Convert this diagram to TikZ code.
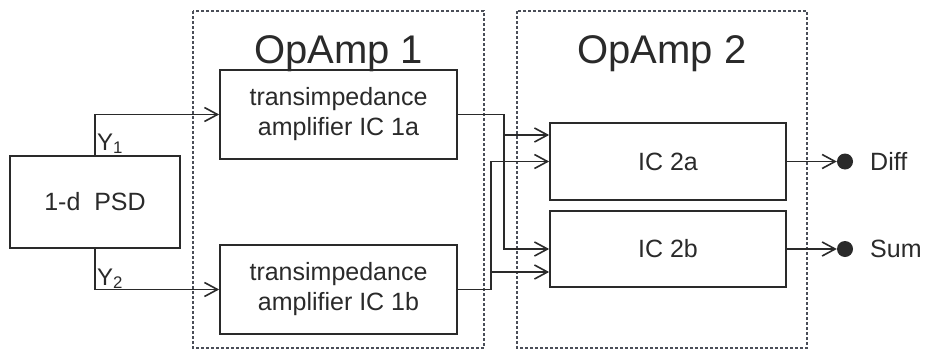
\documentclass[tikz,border=0pt]{standalone}
\usepackage{fontspec}
\setmainfont{Liberation Sans}
\usepackage{tikz}
\usetikzlibrary{arrows.meta,positioning}

\definecolor{inkgray}{HTML}{2A2A2A}
\definecolor{dashgray}{HTML}{4A4E58}

\begin{document}
\begin{tikzpicture}[x=1pt, y=-1pt, >={Straight Barb[length=13pt,width=14pt]},
  every node/.style={text=inkgray},
  block/.style={draw=inkgray, line width=1.7pt, align=center, inner sep=0pt,
    font=\fontsize{25}{30}\selectfont},
  stage/.style={draw=dashgray, line width=1.3pt, dash pattern=on 3pt off 2pt},
  wire/.style={draw=inkgray, line width=1.6pt},
  title/.style={font=\fontsize{40}{48}\selectfont, anchor=base},
  terminal/.style={circle, fill=inkgray, inner sep=0pt, minimum size=16pt},
  outlabel/.style={font=\fontsize{25}{30}\selectfont, anchor=west, inner sep=0pt},
  ylabel/.style={font=\fontsize{24}{28}\selectfont, anchor=south west, inner sep=1pt}]

  \useasboundingbox (0,0) rectangle (928,351);

  % Stages (dashed frames)
  \draw[stage] (193,11) rectangle (484,348);
  \draw[stage] (517,11) rectangle (807,348);
  \node[title] (t1) at (338.5,63) {OpAmp 1};
  \node[title] (t2) at (662,63) {OpAmp 2};

  % Blocks
  \node[block, minimum width=170pt, minimum height=92pt] (psd) at (95,202) {1-d\ \ PSD};
  \node[block, minimum width=237pt, minimum height=89pt] (ic1a) at (338.5,114.5) {transimpedance\\amplifier IC 1a};
  \node[block, minimum width=237pt, minimum height=89pt] (ic1b) at (338.5,289.5) {transimpedance\\amplifier IC 1b};
  \node[block, minimum width=236pt, minimum height=77pt] (ic2a) at (668,161.5) {IC 2a};
  \node[block, minimum width=236pt, minimum height=76pt] (ic2b) at (668,249) {IC 2b};

  % PSD outputs
  \draw[wire, ->] (psd.north) |- (ic1a.west);
  \draw[wire, ->] (psd.south) |- (ic1b.west);
  \node[ylabel] (y1) at ([xshift=1pt]psd.north) {Y\textsubscript{1}};
  \node[ylabel] (y2) at (96,290) {Y\textsubscript{2}};

  % cross wiring between the stages
  \draw[wire, ->] (ic1a.east) -- ++(46,0) |- ([yshift=26.5pt]ic2a.west);
  \draw[wire, ->] (ic1a.east) -- ++(46,0) |- (ic2b.west);
  \draw[wire, ->] (ic1b.east) -- ++(33,0) |- (ic2a.west);
  \draw[wire, ->] (ic1b.east) -- ++(33,0) |- ([yshift=-23pt]ic2b.west);

  % outputs
  \node[terminal] (diff) at (845,161.5) {};
  \node[terminal] (sum) at (845,249) {};
  \draw[wire, ->] (ic2a.east) -- (diff);
  \draw[wire, ->] (ic2b.east) -- (sum);
  \node[outlabel] (ldiff) at (870,161.5) {Diff};
  \node[outlabel] (lsum) at (870,249) {Sum};

\end{tikzpicture}
\end{document}
